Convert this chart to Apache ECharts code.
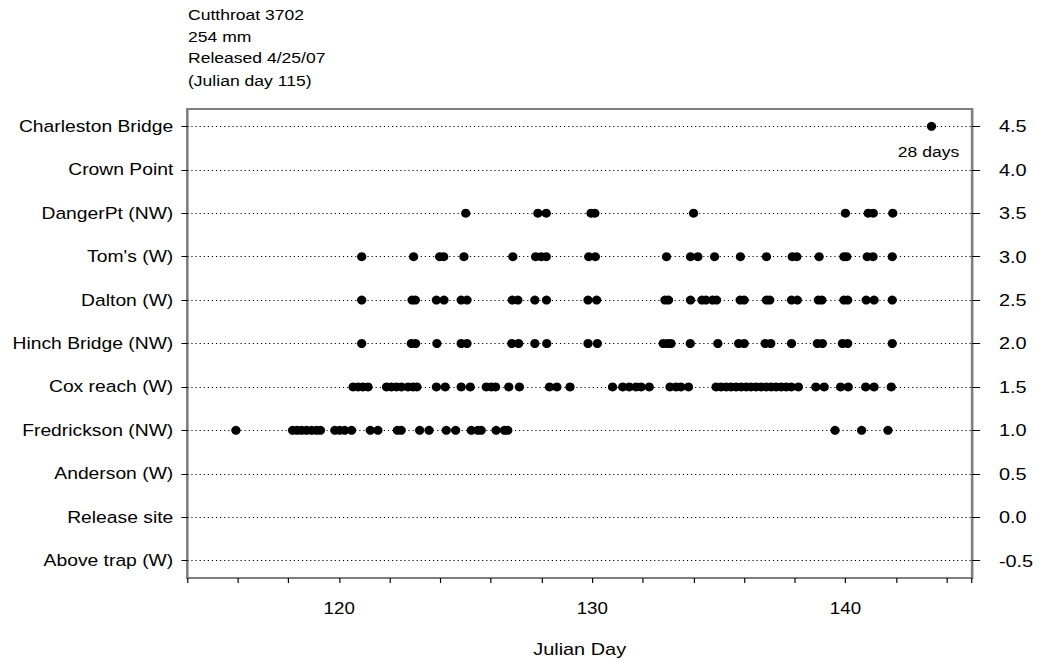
<!DOCTYPE html>
<html>
<head>
<meta charset="utf-8">
<script src="https://cdn.jsdelivr.net/npm/echarts@6/dist/echarts.min.js"></script>
<style>
html,body{margin:0;padding:0;background:#fff;overflow:hidden;}
#wrap{width:1039px;height:663px;overflow:hidden;}
#chart{width:888px;height:663px;transform-origin:0 0;}
</style>
</head>
<body>
<div id="wrap"><div id="chart"></div></div>
<script>
// ---- data ----
var locations = ['Above trap (W)', 'Release site', 'Anderson (W)', 'Fredrickson (NW)', 'Cox reach (W)',
  'Hinch Bridge (NW)', 'Dalton (W)', "Tom's (W)", 'DangerPt (NW)', 'Crown Point', 'Charleston Bridge'];
var levels = [-0.5, 0, 0.5, 1, 1.5, 2, 2.5, 3, 3.5, 4, 4.5];
var xTickLabels = [120, 130, 140];

var charlestonDays = [143.4];
var crownPointDays = [];
var dangerPtDays = [125.0, 127.85, 128.18, 129.95, 130.1, 134.0, 140.0, 140.9, 141.1, 141.87];
var tomsDays = [120.89, 122.94, 123.97, 124.13, 124.93, 126.86, 127.76, 127.98, 128.18, 129.86, 130.12,
  132.93, 133.88, 134.17, 134.83, 135.85, 136.88, 137.9, 138.08, 138.96, 139.94, 140.05, 140.86, 141.09, 141.85];
var daltonDays = [120.89, 122.88, 123.01, 123.84, 124.14, 124.82, 125.05, 126.84, 127.06, 127.73, 128.19,
  129.83, 130.17, 132.87, 133.01, 133.88, 134.33, 134.49, 134.75, 134.91, 135.84, 136.0, 136.88, 137.01,
  137.87, 138.1, 138.93, 139.07, 139.94, 140.09, 140.82, 141.13, 141.85];
var hinchDays = [120.89, 122.85, 123.02, 123.86, 124.82, 125.05, 126.82, 127.09, 127.73, 128.2, 129.83, 130.2,
  132.8, 132.97, 133.11, 133.87, 134.96, 135.78, 136.0, 136.83, 137.05, 137.87, 138.89, 139.09, 139.88,
  140.09, 141.85];
var coxDays = [120.55, 120.75, 120.94, 121.14, 121.87, 122.06, 122.26, 122.46, 122.72, 122.92, 123.07,
  123.84, 124.19, 124.82, 125.18, 125.81, 126.01, 126.18, 126.7, 127.12, 128.31, 128.6, 129.12,
  130.8, 131.2, 131.46, 131.73, 131.93, 132.25, 133.07, 133.31, 133.5, 133.8,
  134.89, 135.09, 135.29, 135.48, 135.68, 135.88, 136.08, 136.27, 136.47, 136.67, 136.87, 137.07,
  137.26, 137.46, 137.66, 137.86, 138.14, 138.83, 139.16, 139.81, 140.11, 140.8, 141.13, 141.81];
var fredricksonDays = [115.92, 118.16, 118.34, 118.52, 118.71, 118.91, 119.1, 119.26, 119.83, 120.02,
  120.22, 120.49, 121.23, 121.53, 122.3, 122.45, 123.18, 123.55, 124.23, 124.6, 125.22, 125.48, 125.61,
  126.2, 126.53, 126.66, 139.59, 140.64, 141.68];
var andersonDays = [];
var releaseSiteDays = [];
var aboveTrapDays = [];

var annotationText = '28 days';
var annotationPoint = [143.28, 4.21];

var titleLines = ['Cutthroat 3702', '254 mm', 'Released 4/25/07', '(Julian day 115)'];
var xAxisName = 'Julian Day';

// ---- build ----
var rows = [
  [charlestonDays, 4.5], [crownPointDays, 4], [dangerPtDays, 3.5], [tomsDays, 3], [daltonDays, 2.5],
  [hinchDays, 2], [coxDays, 1.5], [fredricksonDays, 1], [andersonDays, 0.5], [releaseSiteDays, 0],
  [aboveTrapDays, -0.5]
];
var points = [];
rows.forEach(function (r) {
  r[0].forEach(function (d) { points.push([d, r[1]]); });
});

// the reference is horizontally stretched; draw at 888px wide and widen to 1039px
var SX = 1039 / 888;
document.getElementById('chart').style.transform = 'scaleX(' + SX + ')';

var FONT = "'Liberation Sans', Arial, Helvetica, sans-serif";
var frameColor = '#7f7f7f';

var chart = echarts.init(document.getElementById('chart'), null, {renderer: 'svg'});
chart.setOption({
  backgroundColor: '#fff',
  animation: false,
  textStyle: {fontFamily: FONT},
  title: {
    text: titleLines.join('\n'),
    left: 188 / SX - 5,
    top: -2,
    textStyle: {fontFamily: FONT, fontSize: 15, fontWeight: 'normal', color: '#000', lineHeight: 22}
  },
  grid: {
    left: 187.3 / SX, right: 888 - 972 / SX, top: 109, bottom: 84,
    show: true, borderColor: frameColor, borderWidth: 2, backgroundColor: 'transparent'
  },
  xAxis: {
    type: 'value', min: 114, max: 145, interval: 2,
    name: xAxisName, nameLocation: 'middle', nameGap: 63,
    nameTextStyle: {fontFamily: FONT, fontSize: 17, color: '#000'},
    axisLine: {show: true, onZero: false, lineStyle: {color: frameColor, width: 2}},
    axisTick: {show: true, length: 5, lineStyle: {color: '#000', width: 1}},
    axisLabel: {
      fontFamily: FONT, fontSize: 16, color: '#000', margin: 22,
      formatter: function (v) { return xTickLabels.indexOf(v) >= 0 ? String(v) : ''; }
    },
    splitLine: {show: false}
  },
  yAxis: [{
    type: 'value', min: -0.7, max: 4.7, position: 'left',
    axisLine: {show: true, onZero: false, lineStyle: {color: frameColor, width: 1.8}},
    axisTick: {show: true, length: 5, customValues: levels, lineStyle: {color: '#000', width: 1}},
    axisLabel: {
      customValues: levels, fontFamily: FONT, fontSize: 16.5, color: '#000', margin: 12,
      formatter: function (v) {
        var i = levels.indexOf(Math.round(v * 10) / 10);
        return i >= 0 ? locations[i] : '';
      }
    },
    splitLine: {show: false}
  }, {
    type: 'value', min: -0.7, max: 4.7, position: 'right',
    axisLine: {show: true, onZero: false, lineStyle: {color: frameColor, width: 1.8}},
    axisTick: {show: true, length: 7, customValues: levels, lineStyle: {color: '#000', width: 1}},
    axisLabel: {
      customValues: levels, fontFamily: FONT, fontSize: 17, color: '#000', margin: 23,
      formatter: function (v) { return (Math.round(v * 10) / 10).toFixed(1); }
    },
    splitLine: {show: false}
  }],
  series: [{
    type: 'scatter',
    data: [],
    silent: true,
    markLine: {
      silent: true,
      symbol: ['none', 'none'],
      label: {show: false},
      emphasis: {disabled: true},
      lineStyle: {color: '#000', width: 1, type: [1, 2.5], opacity: 1},
      data: levels.map(function (v) { return {yAxis: v}; })
    }
  }, {
    type: 'scatter',
    data: points,
    symbol: 'circle',
    symbolSize: [7.9, 9],
    itemStyle: {color: '#000', opacity: 1},
    emphasis: {disabled: true},
    z: 5
  }, {
    type: 'scatter',
    data: [annotationPoint],
    symbolSize: 0,
    itemStyle: {opacity: 1},
    label: {
      show: true, position: 'inside', formatter: annotationText,
      fontFamily: FONT, fontSize: 15, color: '#000', opacity: 1
    }
  }]
});
</script>
</body>
</html>
